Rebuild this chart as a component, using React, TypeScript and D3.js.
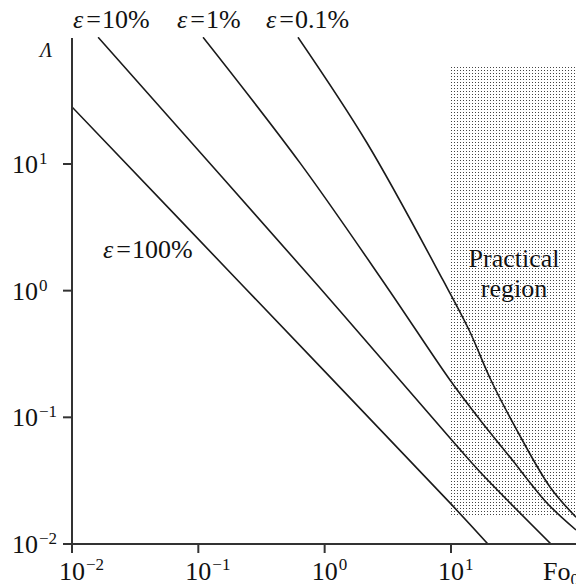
import React from "react";
import * as d3 from "d3";

// ---- data ----
const X_TICKS = [0.01, 0.1, 1, 10];
const X_TICK_EXP = ["−2", "−1", "0", "1"];
const Y_TICKS = [0.01, 0.1, 1, 10];
const Y_TICK_EXP = ["−2", "−1", "0", "1"];

const FO_100 = [0.01, 0.234, 9.82, 19.6];
const LAM_100 = [28.2, 1.05, 0.0211, 0.01];

const FO_10 = [0.0161, 0.918, 9.82, 17.0, 61.9];
const LAM_10 = [100, 1.05, 0.0687, 0.037, 0.01];

const FO_1 = [0.109, 0.638, 3.11, 9.82, 17.0, 29.3, 57.5, 97.7];
const LAM_1 = [100, 10.2, 1.07, 0.197, 0.0953, 0.0486, 0.0211, 0.0129];

const FO_01 = [0.615, 2.16, 8.65, 13.9, 20.7, 31.0, 60.8, 97.7];
const LAM_01 = [100, 14.7, 1.21, 0.489, 0.197, 0.0901, 0.0282, 0.0163];

const REGION_FO = [10, 100];
const REGION_LAM = [0.0169, 60];

const LABELS = ["10%", "1%", "0.1%"];
const LABEL_X = [73, 177, 266];

const SERIES = [
  { fo: FO_100, lam: LAM_100 },
  { fo: FO_10, lam: LAM_10 },
  { fo: FO_1, lam: LAM_1 },
  { fo: FO_01, lam: LAM_01 },
];

const W = 576;
const H = 584;
const FONT = "'Liberation Serif', 'Times New Roman', serif";

export default function App() {
  const x = d3.scaleLog().domain([0.01, 100]).range([72, 577.3]);
  const y = d3.scaleLog().domain([0.01, 100]).range([544, 37.3]);

  const line = d3
    .line<[number, number]>()
    .x((d) => x(d[0]))
    .y((d) => y(d[1]))
    .curve(d3.curveCatmullRom.alpha(0.5));

  const rx0 = x(REGION_FO[0]);
  const rx1 = x(REGION_FO[1]);
  const ry0 = y(REGION_LAM[1]);
  const ry1 = y(REGION_LAM[0]);

  return (
    <svg
      width={W}
      height={H}
      style={{ position: "absolute", left: 0, top: 0, background: "#fff" }}
      fontFamily={FONT}
    >
      <defs>
        <pattern id="dots" width={3} height={3} patternUnits="userSpaceOnUse">
          <rect x={1} y={1} width={1} height={1} fill="#444" />
        </pattern>
        <clipPath id="plot">
          <rect x={72} y={37} width={W - 72} height={544 - 37} />
        </clipPath>
      </defs>
      <rect x={0} y={0} width={W} height={H} fill="#fff" />

      {/* practical region */}
      <rect x={rx0} y={ry0} width={rx1 - rx0} height={ry1 - ry0} fill="url(#dots)" />

      {/* curves */}
      <g clipPath="url(#plot)">
        {SERIES.map((s, i) => (
          <path
            key={i}
            d={line(s.fo.map((f, j) => [f, s.lam[j]] as [number, number])) || ""}
            fill="none"
            stroke="#1a1a1a"
            strokeWidth={1.6}
          />
        ))}
      </g>

      {/* axes */}
      <line x1={72} y1={38} x2={72} y2={544} stroke="#333" strokeWidth={2} />
      <line x1={63} y1={544} x2={W} y2={544} stroke="#333" strokeWidth={2} />
      {Y_TICKS.map((t) => (
        <line key={"yt" + t} x1={63} x2={72} y1={y(t)} y2={y(t)} stroke="#333" strokeWidth={2} />
      ))}
      {X_TICKS.map((t) => (
        <line key={"xt" + t} x1={x(t)} x2={x(t)} y1={544} y2={553} stroke="#333" strokeWidth={2} />
      ))}

      {/* y tick labels */}
      {Y_TICKS.map((t, i) => (
        <g key={"yl" + t}>
          <text x={38} y={y(t) + 9} fontSize={26} textAnchor="end" fill="#111">
            10
          </text>
          <text x={39} y={y(t) + 0} fontSize={17} textAnchor="start" fill="#111">
            {Y_TICK_EXP[i]}
          </text>
        </g>
      ))}

      {/* x tick labels */}
      {X_TICKS.map((t, i) => (
        <g key={"xl" + t}>
          <text x={x(t)} y={580} fontSize={26} textAnchor="middle" fill="#111">
            10
          </text>
          <text x={x(t) + 14} y={570} fontSize={17} textAnchor="start" fill="#111">
            {X_TICK_EXP[i]}
          </text>
        </g>
      ))}

      {/* axis titles */}
      <text x={40} y={57} fontSize={20} fontStyle="italic" fill="#111">
        Λ
      </text>
      <text x={543} y={580} fontSize={26} fill="#111">
        Fo<tspan fontSize={17} dy={5}>0</tspan>
      </text>

      {/* curve labels */}
      {LABELS.map((l, i) => (
        <text key={l} x={LABEL_X[i]} y={28} fontSize={26} fill="#111">
          <tspan fontStyle="italic">ε</tspan>
          <tspan dx={3}>=</tspan>
          <tspan dx={1}>{l}</tspan>
        </text>
      ))}
      <text x={103} y={258} fontSize={26} fill="#111">
        <tspan fontStyle="italic">ε</tspan>
        <tspan dx={3}>=</tspan>
        <tspan dx={1}>100%</tspan>
      </text>

      {/* region label */}
      <g fontSize={26} textAnchor="middle" fill="#111" stroke="#fff" strokeWidth={2} paintOrder="stroke">
        <text x={514} y={267}>Practical</text>
        <text x={514} y={297}>region</text>
      </g>
    </svg>
  );
}
